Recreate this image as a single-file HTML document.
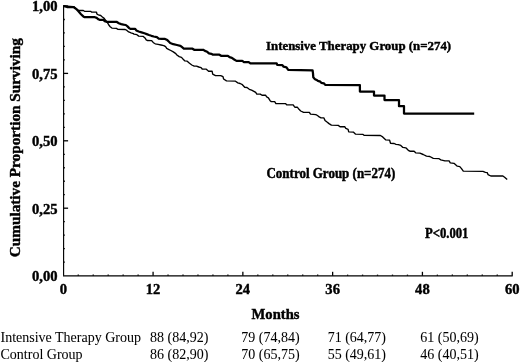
<!DOCTYPE html>
<html><head><meta charset="utf-8"><style>
html,body{margin:0;padding:0;background:#fff;}
svg{display:block;filter:grayscale(1);}
text{font-family:"Liberation Serif",serif;fill:#000;}
.b{font-weight:bold;}
.b text{stroke:#000;stroke-width:0.42px;}
.r text{stroke:#000;stroke-width:0.05px;}
</style></head><body>
<svg width="520" height="362" viewBox="0 0 520 362">
<g stroke="#000" stroke-width="1.3" fill="none">
<line x1="63.6" y1="5.3" x2="63.6" y2="275.8" stroke-width="1.15"/>
<line x1="63.0" y1="275.8" x2="512.7" y2="275.8"/>
<line x1="78.26" y1="275.8" x2="78.26" y2="274.60"/><line x1="93.23" y1="275.8" x2="93.23" y2="274.60"/><line x1="108.19" y1="275.8" x2="108.19" y2="274.60"/><line x1="123.15" y1="275.8" x2="123.15" y2="274.60"/><line x1="138.12" y1="275.8" x2="138.12" y2="274.60"/><line x1="153.08" y1="275.8" x2="153.08" y2="271.80"/><line x1="168.04" y1="275.8" x2="168.04" y2="274.60"/><line x1="183.01" y1="275.8" x2="183.01" y2="274.60"/><line x1="197.97" y1="275.8" x2="197.97" y2="274.60"/><line x1="212.93" y1="275.8" x2="212.93" y2="274.60"/><line x1="227.90" y1="275.8" x2="227.90" y2="274.60"/><line x1="242.86" y1="275.8" x2="242.86" y2="271.80"/><line x1="257.82" y1="275.8" x2="257.82" y2="274.60"/><line x1="272.79" y1="275.8" x2="272.79" y2="274.60"/><line x1="287.75" y1="275.8" x2="287.75" y2="274.60"/><line x1="302.71" y1="275.8" x2="302.71" y2="274.60"/><line x1="317.68" y1="275.8" x2="317.68" y2="274.60"/><line x1="332.64" y1="275.8" x2="332.64" y2="271.80"/><line x1="347.60" y1="275.8" x2="347.60" y2="274.60"/><line x1="362.57" y1="275.8" x2="362.57" y2="274.60"/><line x1="377.53" y1="275.8" x2="377.53" y2="274.60"/><line x1="392.49" y1="275.8" x2="392.49" y2="274.60"/><line x1="407.46" y1="275.8" x2="407.46" y2="274.60"/><line x1="422.42" y1="275.8" x2="422.42" y2="271.80"/><line x1="437.38" y1="275.8" x2="437.38" y2="274.60"/><line x1="452.35" y1="275.8" x2="452.35" y2="274.60"/><line x1="467.31" y1="275.8" x2="467.31" y2="274.60"/><line x1="482.27" y1="275.8" x2="482.27" y2="274.60"/><line x1="497.24" y1="275.8" x2="497.24" y2="274.60"/><line x1="512.20" y1="275.8" x2="512.20" y2="271.80"/><line x1="63.6" y1="262.12" x2="64.8" y2="262.12"/><line x1="63.6" y1="248.64" x2="64.8" y2="248.64"/><line x1="63.6" y1="235.16" x2="64.8" y2="235.16"/><line x1="63.6" y1="221.68" x2="64.8" y2="221.68"/><line x1="63.6" y1="208.20" x2="68.1" y2="208.20"/><line x1="63.6" y1="194.72" x2="64.8" y2="194.72"/><line x1="63.6" y1="181.24" x2="64.8" y2="181.24"/><line x1="63.6" y1="167.76" x2="64.8" y2="167.76"/><line x1="63.6" y1="154.28" x2="64.8" y2="154.28"/><line x1="63.6" y1="140.80" x2="68.1" y2="140.80"/><line x1="63.6" y1="127.32" x2="64.8" y2="127.32"/><line x1="63.6" y1="113.84" x2="64.8" y2="113.84"/><line x1="63.6" y1="100.36" x2="64.8" y2="100.36"/><line x1="63.6" y1="86.88" x2="64.8" y2="86.88"/><line x1="63.6" y1="73.40" x2="68.1" y2="73.40"/><line x1="63.6" y1="59.92" x2="64.8" y2="59.92"/><line x1="63.6" y1="46.44" x2="64.8" y2="46.44"/><line x1="63.6" y1="32.96" x2="64.8" y2="32.96"/><line x1="63.6" y1="19.48" x2="64.8" y2="19.48"/><line x1="63.6" y1="6.00" x2="68.1" y2="6.00"/>
</g>
<polyline points="63.4,6 73.5,6.6 76,8.5 78.7,10.5 83.3,10.5 84.5,11.3 90.9,11.4 91.5,12.1 96.5,12.2 96.9,14 98.4,14.8 100.7,15.5 102.4,17 104.2,18.4 105.3,19.8 107,22.2 108.2,23.9 108.8,25 110.2,26.7 111.9,28.1 116.5,28.4 117.7,29.3 125.2,29.5 126.9,30.4 128.7,31.9 131,32.8 133.3,33.6 134,34.1 136.9,34.7 138.7,36.1 143.3,36.4 145,37.9 146.2,39.9 147.3,40.5 151.4,40.6 152.5,41.6 153.5,42.7 155.2,43.8 158.1,44.4 161,45 163.8,45.6 165.6,46.7 166.7,48.4 168.5,49.3 170.8,50.5 173.3,51.9 175.8,53.6 176.9,55 179.2,56.6 181.5,57.4 183.2,59.2 184.9,60.9 187.2,61.2 189.5,63.3 191.8,65 194.2,66.1 196.5,66.1 198.8,67 201.1,67.6 202.2,69 206.3,69.2 208.6,71.2 212.1,71.2 212.7,74.1 215.5,75.6 220.7,75.6 223,76.7 223.6,79 226.5,80.9 235.5,81.2 237.8,82.9 240.1,83.5 242.4,84.7 244.7,87.3 247,87.5 249.3,89.3 251.6,90.1 253.9,91.3 255.7,92.4 256.8,94.1 260.3,94.1 262,95.2 265.5,95.2 266.7,96.9 268.4,97.8 270.1,100.7 271.3,101.6 274.7,101.6 275.9,103.6 285.7,103.7 286.9,104.9 293.2,104.9 294.4,106.7 295,107.2 297.3,107.2 299,109.3 300.7,111 303.6,112.3 309.4,112.3 310.5,114.2 315.8,114.6 317.5,115.5 319.2,116.9 321,117.8 323.8,117.8 325,120.4 326.7,121.8 329,123.6 331.4,125.1 338.3,125.4 340,126.7 344.7,126.7 345.8,128.4 348.1,129.3 348.7,131.8 353.3,132.1 355.6,134.2 363.1,134.4 364.3,135.4 380.4,135.5 382.7,136.9 385.6,139.8 389.6,140.1 390.5,143.3 394.2,143.5 396,144.4 398.3,144.6 400.8,145.4 402.9,147.4 405.8,147.8 408.3,150.3 409.9,151.2 414.1,151.2 415.7,152.8 419.9,153.2 423.2,154.5 426.5,156.1 429.8,156.5 433.3,158.3 439.1,158.7 440.8,159.9 444.9,160.8 449.1,160.8 450.3,162.8 454,163.3 457.3,166.2 459.8,166.6 461.5,168.6 463.3,171.2 483,171.3 485.4,172.3 487.3,172.7 488,174.6 490.8,176 502.9,176 504.6,177.3 507.2,179.6" fill="none" stroke="#000" stroke-width="1.35" stroke-linejoin="round"/>
<polyline points="63.4,6 65,6.4 67,7 73.5,7 76,8.8 78.2,11 81,14.2 83.3,16.4 84.8,17.2 94.9,17.2 96.7,17.9 98.4,19.3 99.5,19.8 103.6,19.8 104.7,21.2 107,21.8 116.5,21.8 118.8,23.2 121.2,24.1 123.5,24.7 125.8,25 127.5,26.4 129.2,28.1 130.4,28.9 135.2,28.9 136.3,30.4 138.7,31.5 141.5,32.4 144.4,33.3 146.7,34.1 149,35 151.4,35.8 153.7,36.5 156.9,37.2 158.7,38.6 161.5,38.9 165,38.9 167.3,40.1 169,41.8 170.2,43 173.3,44.2 176.9,45 180.4,45.8 182.1,47.2 183.8,48.6 192.5,48.7 194.2,49.8 203.2,49.8 204.9,50.9 207.2,51.8 209,53.4 211.3,53.8 213,54.7 219.4,54.7 221.1,55.8 227.9,55.8 229.6,57.2 231.9,57.8 234.2,59.5 236.5,60.9 242.3,60.9 244,62.1 248.7,62.1 250.4,63.4 276.7,63.4 277.2,65 282.4,65.1 283.6,66.7 286.5,67.3 288.2,69.8 312.6,70.3 313,73.3 313.3,77.3 314.6,78.9 316.6,79.9 317.9,80.9 320.3,81.6 321.3,82.9 323.9,83.3 325.2,84.9 359.9,85.1 359.9,91.6 374,91.6 374,95.5 384.5,95.5 384.5,100 399,100 399,106.2 404,106.2 404,113.5 474.2,113.5" fill="none" stroke="#000" stroke-width="2.25" stroke-linejoin="round"/>
<g class="b" font-size="14.6">
<text x="57.6" y="280.90" text-anchor="end">0,00</text>
<text x="57.6" y="213.50" text-anchor="end">0,25</text>
<text x="57.6" y="146.10" text-anchor="end">0,50</text>
<text x="57.6" y="78.70" text-anchor="end">0,75</text>
<text x="57.6" y="11.30" text-anchor="end">1,00</text>
<text x="63.30" y="294.3" text-anchor="middle">0</text>
<text x="153.08" y="294.3" text-anchor="middle">12</text>
<text x="242.86" y="294.3" text-anchor="middle">24</text>
<text x="332.64" y="294.3" text-anchor="middle">36</text>
<text x="422.42" y="294.3" text-anchor="middle">48</text>
<text x="512.20" y="294.3" text-anchor="middle">60</text>

<text x="275.5" y="318.6" text-anchor="middle">Months</text>
</g>
<g class="b" font-size="13">
<text x="266" y="49.8" font-size="12.87" transform="translate(0 49.8) scale(1 1.05) translate(0 -49.8)">Intensive Therapy Group (n=274)</text>
<text x="266.5" y="178" transform="translate(0 178) scale(1 1.06) translate(0 -178)">Control Group (n=274)</text>
<text x="425" y="237.6" transform="translate(425 237.6) scale(0.975 1.06) translate(-425 -237.6)">P&lt;0.001</text>
<text transform="translate(19.6,147.7) rotate(-90)" text-anchor="middle" font-size="15.25">Cumulative Proportion Surviving</text>
</g>
<g class="r" font-size="14">
<text x="0.5" y="341.5">Intensive Therapy Group</text>
<text x="0.5" y="358.6">Control Group</text>
<text x="150" y="341.5">88 (84,92)</text>
<text x="150" y="358.6">86 (82,90)</text>
<text x="241.3" y="341.5">79 (74,84)</text>
<text x="241.3" y="358.6">70 (65,75)</text>
<text x="327.7" y="341.5">71 (64,77)</text>
<text x="327.7" y="358.6">55 (49,61)</text>
<text x="420.3" y="341.5">61 (50,69)</text>
<text x="420.3" y="358.6">46 (40,51)</text>
</g>
</svg>
</body></html>
